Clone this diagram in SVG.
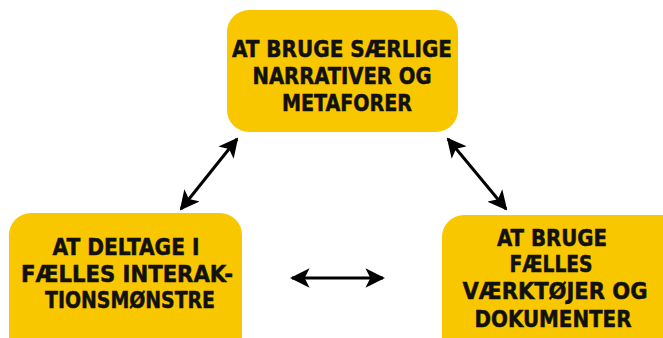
<svg xmlns="http://www.w3.org/2000/svg" width="663" height="338" viewBox="0 0 663 338">
<style>
.box{fill:#F9C700}
.t{font-family:"DejaVu Sans Condensed","DejaVu Sans",sans-serif;font-weight:bold;font-size:23.5px;fill:#111;stroke:#111;stroke-width:0.5;text-anchor:middle}
.c{stroke:#000;stroke-width:3;fill:none;marker-start:url(#ah);marker-end:url(#ah)}
</style>
<defs>
<marker id="ah" viewBox="0 0 10 10" refX="9" refY="5" markerWidth="6.5" markerHeight="6.5" orient="auto-start-reverse" markerUnits="strokeWidth">
<path d="M0,0 L10,5 L0,10 L2.5,5 Z" fill="#000"/>
</marker>
</defs>
<rect width="663" height="338" fill="#fff"/>
<g id="connectors">
<line class="c" x1="181" y1="209" x2="237" y2="139"/>
<line class="c" x1="448" y1="139" x2="506" y2="209"/>
<line class="c" x1="292" y1="278" x2="383" y2="278"/>
</g>
<g id="node-top">
<rect class="box" x="227" y="10" width="231" height="122" rx="22"/>
<text class="t" x="342" y="57" textLength="220" lengthAdjust="spacingAndGlyphs">AT BRUGE SÆRLIGE</text>
<text class="t" x="342" y="84" textLength="179" lengthAdjust="spacingAndGlyphs">NARRATIVER OG</text>
<text class="t" x="347" y="111" textLength="130" lengthAdjust="spacingAndGlyphs">METAFORER</text>
</g>
<g id="node-left">
<rect class="box" x="9" y="213" width="233" height="150" rx="22"/>
<text class="t" x="126" y="255" textLength="147" lengthAdjust="spacingAndGlyphs">AT DELTAGE I</text>
<text class="t" x="127" y="282" textLength="212" lengthAdjust="spacingAndGlyphs">FÆLLES INTERAK-</text>
<text class="t" x="130" y="308" textLength="170" lengthAdjust="spacingAndGlyphs">TIONSMØNSTRE</text>
</g>
<g id="node-right">
<rect class="box" x="442" y="215" width="250" height="150" rx="22"/>
<text class="t" x="552" y="246" textLength="110" lengthAdjust="spacingAndGlyphs">AT BRUGE</text>
<text class="t" x="551" y="272" textLength="83" lengthAdjust="spacingAndGlyphs">FÆLLES</text>
<text class="t" x="555" y="299" textLength="185" lengthAdjust="spacingAndGlyphs">VÆRKTØJER OG</text>
<text class="t" x="553" y="327" textLength="157" lengthAdjust="spacingAndGlyphs">DOKUMENTER</text>
</g>
</svg>
